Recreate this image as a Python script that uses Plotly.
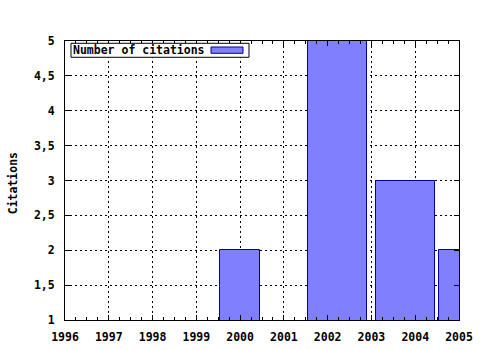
import plotly.graph_objects as go

# Data
years = [2000, 2001, 2002, 2004, 2005]
citations = [2, 1, 5, 3, 2]
series_name = "Number of citations"
y_title = "Citations"

Y_MIN, Y_MAX = 1, 5

# gnuplot-style automatic box widths (boxes touch neighbours, scaled by 0.9)
rel = 0.9
centers, widths = [], []
n = len(years)
for i, x in enumerate(years):
    dxr = (years[i + 1] - x) / 2 if i < n - 1 else None
    dxl = (years[i - 1] - x) / 2 if i > 0 else None
    if dxl is None:
        dxl = -dxr
    if dxr is None:
        dxr = -dxl
    left = x + rel * dxl
    right = x + rel * dxr
    centers.append((left + right) / 2)
    widths.append(right - left)

# boxes that do not rise above the axis minimum are invisible (no outline)
line_widths = [1 if v > Y_MIN else 0 for v in citations]

FONT = "DejaVu Sans Mono"
fnt = dict(family=FONT, size=11.5, color="black", weight="bold")

fig = go.Figure()
fig.add_trace(go.Bar(
    x=centers, y=citations, width=widths, name=series_name,
    marker=dict(color="#8080ff", line=dict(color="#0000a0", width=line_widths)),
    showlegend=False,
))

axis_common = dict(
    showline=True, linecolor="black", linewidth=1, mirror="ticks",
    ticks="inside", ticklen=5, tickcolor="black", tickwidth=1,
    showgrid=True, gridcolor="black", gridwidth=1, griddash="2px,3px",
    zeroline=False, tickfont=fnt, automargin=False,
)

fig.update_layout(
    width=480, height=350,
    margin=dict(l=65, r=21, t=41, b=30),
    paper_bgcolor="white", plot_bgcolor="white",
    separators=", ",
    font=fnt,
    bargap=0,
    xaxis=dict(range=[1996, 2005], dtick=1, tick0=1996, ticklabelstandoff=6,
               minor=dict(dtick=0.25, ticks="inside", ticklen=3, tickcolor="black", showgrid=False),
               **axis_common),
    yaxis=dict(range=[Y_MIN, Y_MAX], dtick=0.5, tick0=1, ticklabelstandoff=7,
               **axis_common),
    shapes=[
        dict(type="rect", xref="paper", yref="paper", x0=0.0152, x1=0.467, y0=0.9416, y1=0.9918,
             fillcolor="white", line=dict(color="black", width=1), layer="above"),
        dict(type="rect", xref="paper", yref="paper", x0=0.3706, x1=0.4518, y0=0.9559, y1=0.9785,
             fillcolor="#8080ff", line=dict(color="#0000a0", width=1), layer="above"),
    ],
    annotations=[
        dict(text=series_name, xref="paper", yref="paper", x=0.016, y=0.9667,
             xanchor="left", yanchor="middle", showarrow=False, font=fnt),
        dict(text=y_title, xref="paper", yref="paper", x=-0.132, y=0.49,
             xanchor="center", yanchor="middle", textangle=-90, showarrow=False,
             font=fnt),
    ],
)

fig.write_html("out.html")
